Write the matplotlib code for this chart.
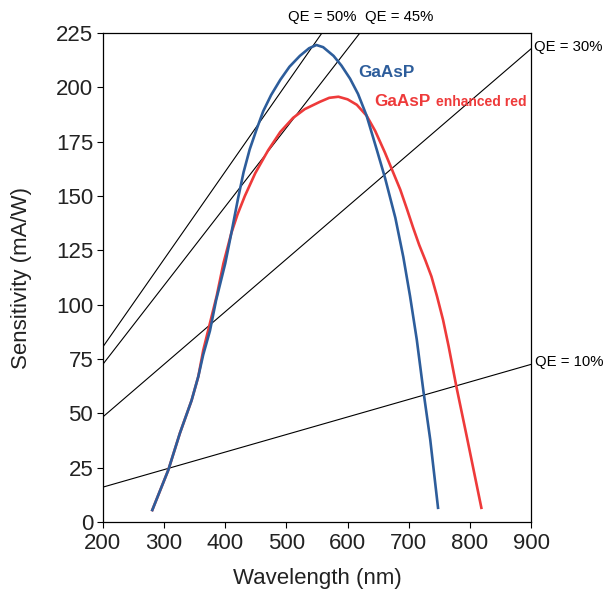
import matplotlib.pyplot as plt

plt.rcParams['font.family'] = ['Liberation Sans', 'DejaVu Sans']

# GaAsP photocathode sensitivity
gaasp_wl = [280, 307, 326, 345, 356, 364, 375, 385, 400, 410, 421, 430, 440, 451, 462,
            475, 490, 505, 522, 537, 549, 560, 577, 590, 604, 617, 631, 648, 661, 678,
            691, 702, 713, 724, 735, 748]
gaasp_s = [5, 24, 41, 56, 67, 77, 88, 102, 119, 133, 149, 161, 171.5, 180.5, 189,
           196.5, 203.5, 209.5, 214.5, 218, 219.5, 218.5, 214.5, 210, 204, 197, 187, 171, 158.5, 140,
           122, 104, 84, 60, 38, 6]

# GaAsP enhanced red
red_wl = [280, 307, 326, 345, 356, 364, 375, 386, 397, 410, 420, 432, 449, 470, 490,
          511, 530, 555, 570, 585, 600, 615, 631, 645, 661, 686, 697, 707, 717, 727,
          737, 746, 756, 765, 778, 795, 819]
red_s = [5, 24, 41, 56, 67, 79, 91.5, 104, 119, 133, 141.5, 150, 160.5, 171, 179.5,
         186, 190, 193.4, 195.2, 195.7, 194.5, 192, 187, 180, 170, 153, 144, 135.5, 127.5, 120.5,
         113, 104, 93, 81, 62, 39, 6]

# QE reference lines: start at 200 nm, end where they leave the plot
qe_names = ['QE = 50%', 'QE = 45%', 'QE = 30%', 'QE = 10%']
qe_start_s = [80.6, 72.6, 48.4, 16.1]
qe_end_wl = [558, 620, 900, 900]
qe_end_s = [225, 225, 217.8, 72.6]

blue = '#2d5d9b'
red = '#ee3a3a'

fig = plt.figure(figsize=(6.05, 5.90), dpi=100)
ax = fig.add_axes([0.170, 0.115, 0.708, 0.829])

for i in range(len(qe_names)):
    ax.plot([200, qe_end_wl[i]], [qe_start_s[i], qe_end_s[i]], color='black', lw=0.8)

ax.plot(red_wl, red_s, color=red, lw=1.9, solid_capstyle='butt')
ax.plot(gaasp_wl, gaasp_s, color=blue, lw=1.9, solid_capstyle='butt')

# QE labels
ax.text(558, 232.4, qe_names[0], fontsize=10.7, ha='center', va='center', clip_on=False)
ax.text(628, 232.4, qe_names[1], fontsize=10.7, ha='left', va='center', clip_on=False)
ax.text(905, 218.6, qe_names[2], fontsize=10.7, ha='left', va='center', clip_on=False)
ax.text(906, 73.6, qe_names[3], fontsize=10.7, ha='left', va='center', clip_on=False)

# curve labels
ax.text(617.7, 204.6, 'GaAsP', color=blue, fontsize=12.3, fontweight='bold', va='baseline')
ax.text(643.8, 191.4, 'GaAsP', color=red, fontsize=12.3, fontweight='bold', va='baseline')
ax.text(745, 191.4, 'enhanced red', color=red, fontsize=10, fontweight='bold', va='baseline')

ax.set_xlim(200, 900)
ax.set_ylim(0, 225)
ax.set_xticks(range(200, 901, 100))
ax.set_yticks(range(0, 226, 25))
ax.tick_params(direction='out', length=4, width=0.8, labelsize=16,
               labelcolor='#222222', pad=3)
ax.tick_params(axis='x', pad=4)
for sp in ax.spines.values():
    sp.set_linewidth(0.9)

ax.set_xlabel('Wavelength (nm)', fontsize=16, color='#222222', labelpad=10)
ax.set_ylabel('Sensitivity (mA/W)', fontsize=16, color='#222222', labelpad=17)

plt.savefig('out.png', dpi=100, facecolor='white')
